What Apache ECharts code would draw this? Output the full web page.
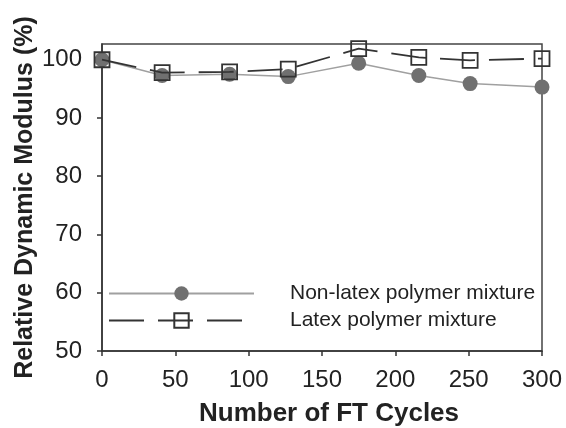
<!DOCTYPE html>
<html>
<head>
<meta charset="utf-8">
<script src="https://cdn.jsdelivr.net/npm/echarts@6/dist/echarts.min.js"></script>
<style>
  html, body { margin: 0; padding: 0; background: #fff; }
  #main { width: 566px; height: 428px; }
</style>
</head>
<body>
<div id="main"></div>
<script>
// FT cycles and relative dynamic modulus
var cycles = [0, 41, 87, 127, 175, 216, 251, 300];
var nonLatex = [100, 97.3, 97.5, 97.1, 99.4, 97.3, 95.9, 95.3];
var latex = [100, 97.8, 97.9, 98.4, 101.9, 100.4, 99.9, 100.2];
var yTicks = [50, 60, 70, 80, 90, 100];
var seriesNames = ['Non-latex polymer mixture', 'Latex polymer mixture'];

(function () {
    var myChart = echarts.init(document.getElementById('main'));
    var font = 'Liberation Sans, Arial, sans-serif';

    function pairs(ys) {
        return cycles.map(function (x, i) { return [x, ys[i]]; });
    }

    var option = {
        backgroundColor: '#fff',
        animation: false,
        grid: {
            left: 102,
            right: 24,
            top: 44,
            bottom: 77,
            outerBoundsMode: 'none',
            containLabel: false,
            show: true,
            borderColor: '#444',
            borderWidth: 1.5,
            backgroundColor: 'transparent'
        },
        legend: {
            left: 108,
            top: 283,
            padding: 0,
            orient: 'vertical',
            itemWidth: 145,
            itemHeight: 18,
            itemGap: 6,
            data: seriesNames,
            textStyle: {
                fontFamily: font,
                fontSize: 21,
                color: '#222',
                padding: [0, 0, 0, 31]
            }
        },
        xAxis: {
            type: 'value',
            min: 0,
            max: 300,
            interval: 50,
            name: 'Number of FT Cycles',
            nameLocation: 'middle',
            nameGap: 50,
            nameMoveOverlap: false,
            nameTextStyle: {
                fontFamily: font,
                fontSize: 26,
                fontWeight: 'bold',
                color: '#222',
                padding: [0, 0, 0, 14]
            },
            axisLine: { show: true, lineStyle: { color: '#333', width: 1.5 } },
            axisTick: { show: true, length: 5, lineStyle: { color: '#333', width: 1.5 } },
            axisLabel: {
                margin: 17,
                fontFamily: font,
                fontSize: 24,
                color: '#222'
            },
            splitLine: { show: false }
        },
        yAxis: {
            type: 'value',
            min: 50,
            max: 102.7,
            interval: 10,
            name: 'Relative Dynamic Modulus (%)',
            nameLocation: 'middle',
            nameGap: 64,
            nameMoveOverlap: false,
            nameTextStyle: {
                fontFamily: font,
                fontSize: 25,
                fontWeight: 'bold',
                color: '#222'
            },
            axisLine: { show: true, lineStyle: { color: '#333', width: 1.5 } },
            axisTick: {
                show: true,
                length: 5,
                customValues: yTicks,
                lineStyle: { color: '#333', width: 1.5 }
            },
            axisLabel: {
                margin: 20,
                customValues: yTicks,
                fontFamily: font,
                fontSize: 24,
                color: '#222'
            },
            splitLine: { show: false }
        },
        series: [{
            name: seriesNames[0],
            type: 'line',
            data: pairs(nonLatex),
            symbol: 'circle',
            symbolSize: 15,
            itemStyle: { color: '#707070' },
            lineStyle: { color: '#a0a0a0', width: 1.5 },
            z: 2
        }, {
            name: seriesNames[1],
            type: 'line',
            data: pairs(latex),
            symbol: 'rect',
            symbolSize: 15,
            itemStyle: {
                color: 'rgba(255,255,255,0)',
                borderColor: '#333',
                borderWidth: 1.8
            },
            lineStyle: { color: '#333', width: 1.8, type: [35, 14] },
            z: 3
        }]
    };

    myChart.setOption(option);
    window.addEventListener('resize', function () {
        myChart.resize();
    });
})();
</script>
</body>
</html>
